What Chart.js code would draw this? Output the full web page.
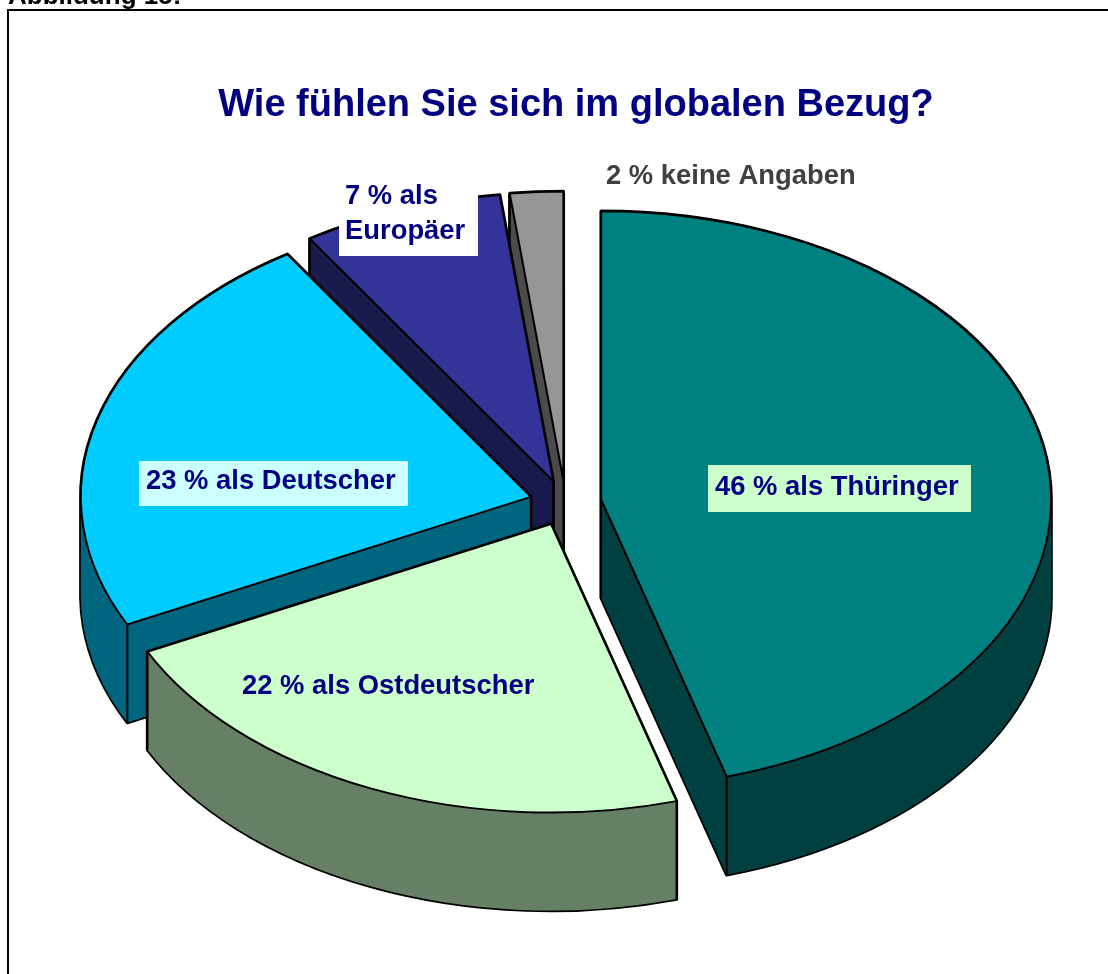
<!DOCTYPE html>
<html lang="de">
<head>
<meta charset="utf-8">
<title>Abbildung 15</title>
<script src="https://cdn.jsdelivr.net/npm/chart.js@4"></script>
<style>
html,body{margin:0;padding:0;background:#fff;overflow:hidden}
#wrap{position:absolute;left:0;top:0;width:1108px;height:974px}
</style>
</head>
<body>
<div id="wrap"><canvas id="c" width="1108" height="974"></canvas></div>
<script>
// ---- data ----
const categories = ['als Thüringer', 'als Ostdeutscher', 'als Deutscher', 'als Europäer', 'keine Angaben'];
const shares = [45.5, 22.2, 23.2, 7.2, 1.9];
const sliceLabels = ['46 % als Thüringer', '22 % als Ostdeutscher', '23 % als Deutscher', '7 % als\nEuropäer', '2 % keine Angaben'];
const topColors = ['#008080', '#CCFFCC', '#00CCFF', '#333399', '#969696'];
const wallColors = ['#004040', '#668066', '#006680', '#1A1A4D', '#4B4B4B'];
const chartTitle = 'Wie fühlen Sie sich im globalen Bezug?';
const figureCaption = 'Abbildung 15:';

// ---- layout / style ----
const centre = {x: 565.5, y: 503}, radius = 450, squash = 0.641, depth = 98, explode = 36;
const labelFont = 'bold 27.4px "Liberation Sans", Arial, sans-serif';
const labelStyles = [
  {box: [708, 465, 263, 47], fill: '#CCFFCC', x: 715, y: 487, color: '#000080'},
  {x: 242, y: 686, color: '#000080'},
  {box: [139, 461, 269, 45], fill: '#CCFFFF', x: 146, y: 481, color: '#000080'},
  {box: [339, 178, 139, 78], fill: '#FFFFFF', x: 345, y: 196, lineGap: 35, color: '#000080'},
  {x: 606, y: 176, color: '#404040'}
];

function apex(arc) {
  const mid = (arc.startAngle + arc.endAngle) / 2;
  return {x: centre.x + Math.cos(mid) * explode, y: centre.y + Math.sin(mid) * explode * squash};
}
function addSector(ctx, arc, dy) {
  const a = apex(arc);
  ctx.moveTo(a.x, a.y + dy);
  ctx.ellipse(a.x, a.y + dy, arc.outerRadius, arc.outerRadius * squash, 0, arc.startAngle, arc.endAngle);
  ctx.closePath();
}
function addExtrusion(ctx, arc) {
  ctx.beginPath();
  for (let d = 0; d <= depth; d++) addSector(ctx, arc, d);
}

const pie3d = {
  id: 'pie3d',
  beforeDraw(chart) {
    const ctx = chart.ctx;
    ctx.save();
    ctx.fillStyle = '#000';
    ctx.fillRect(7, 9, 1101, 2);
    ctx.fillRect(7, 9, 2, 965);
    ctx.font = 'bold 26px "Liberation Sans", Arial, sans-serif';
    ctx.textBaseline = 'alphabetic';
    ctx.fillText(figureCaption, 8, 4);
    ctx.restore();
  },
  beforeDatasetDraw(chart) {
    const ctx = chart.ctx, arcs = chart.getDatasetMeta(0).data;
    ctx.save();
    ctx.lineJoin = 'round';
    ctx.strokeStyle = '#000';
    // side walls, back to front
    for (let i = arcs.length - 1; i >= 0; i--) {
      const arc = arcs[i], a = apex(arc), r = arc.outerRadius;
      addExtrusion(ctx, arc);
      ctx.lineWidth = 3.4;
      ctx.stroke();
      ctx.fillStyle = wallColors[i];
      ctx.fill();
      const pts = [[a.x, a.y],
        [a.x + r * Math.cos(arc.startAngle), a.y + r * squash * Math.sin(arc.startAngle)],
        [a.x + r * Math.cos(arc.endAngle), a.y + r * squash * Math.sin(arc.endAngle)]];
      ctx.lineWidth = 2;
      pts.forEach(p => { ctx.beginPath(); ctx.moveTo(p[0], p[1]); ctx.lineTo(p[0], p[1] + depth); ctx.stroke(); });
    }
    ctx.restore();
    // top faces: Chart.js arc elements, squashed and exploded
    arcs.forEach(arc => {
      const a = apex(arc);
      ctx.save();
      ctx.translate(a.x, a.y);
      ctx.scale(1, squash);
      ctx.translate(-arc.x, -arc.y);
      arc.draw(ctx);
      ctx.restore();
    });
    ctx.save();
    ctx.lineJoin = 'round';
    ctx.strokeStyle = '#000';
    ctx.lineWidth = 2;
    arcs.forEach(arc => { ctx.beginPath(); addSector(ctx, arc, 0); ctx.stroke(); });
    // data labels
    ctx.font = labelFont;
    ctx.textBaseline = 'middle';
    labelStyles.forEach((s, i) => {
      if (s.box) { ctx.fillStyle = s.fill; ctx.fillRect(...s.box); }
      ctx.fillStyle = s.color;
      sliceLabels[i].split('\n').forEach((line, k) => ctx.fillText(line, s.x, s.y + k * (s.lineGap || 0)));
    });
    ctx.restore();
    return false; // default drawing replaced above
  }
};

new Chart(document.getElementById('c'), {
  type: 'pie',
  plugins: [pie3d],
  data: {
    labels: categories,
    datasets: [{
      data: shares,
      backgroundColor: topColors,
      borderWidth: 0,
      clip: false
    }]
  },
  options: {
    responsive: false,
    animation: false,
    radius: radius,
    rotation: 0,
    layout: {padding: {left: 44, top: 83}},
    events: [],
    plugins: {
      legend: {display: false},
      tooltip: {enabled: false},
      title: {
        display: true,
        text: chartTitle,
        color: '#000080',
        font: {family: '"Liberation Sans", Arial, sans-serif', size: 38, weight: 'bold'},
        padding: {top: 0, bottom: 0}
      }
    }
  }
});
</script>
</body>
</html>
